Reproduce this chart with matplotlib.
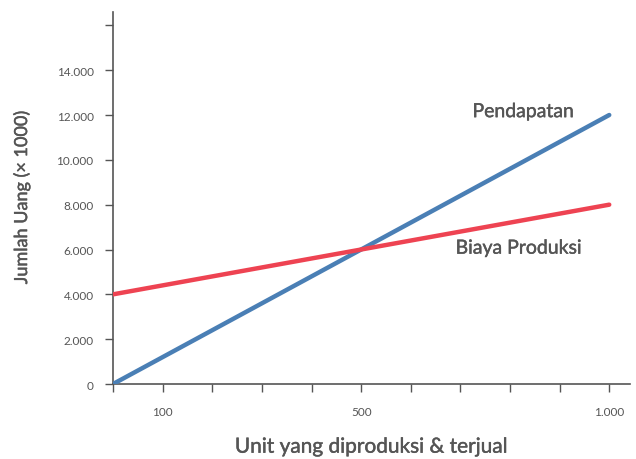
import matplotlib
matplotlib.use("Agg")
import matplotlib.pyplot as plt
import matplotlib.patheffects as pe
from matplotlib.ticker import FuncFormatter

# data
unit = [0, 1000]
pendapatan = [0, 12000]
biaya = [4000, 8000]
x_ticks = list(range(0, 1001, 100))
x_labels = {100: "100", 500: "500", 1000: "1.000"}
y_ticks = list(range(0, 16001, 2000))

abu = "#555555"
plt.rcParams["font.family"] = ["Lato", "DejaVu Sans"]
tebal = [pe.withStroke(linewidth=0.3, foreground=abu)]  # sedikit lebih tebal (semibold)

fig = plt.figure(figsize=(6.36, 4.6), dpi=100)
ax = fig.add_axes([0.1777, 0.163, 0.813, 0.809])

ax.plot(unit, pendapatan, color="#4a7fb5", lw=3.2, solid_capstyle="round", zorder=3)
ax.plot(unit, biaya, color="#ee4352", lw=3.2, solid_capstyle="round", zorder=3)

ax.set_xlim(0, 1042)
ax.set_ylim(0, 16600)
ax.set_xticks(x_ticks)
ax.set_xticklabels([x_labels.get(t, "") for t in x_ticks])
ax.set_yticks(y_ticks)
ax.yaxis.set_major_formatter(FuncFormatter(
    lambda v, p: "" if v > 14000 else f"{int(v):,}".replace(",", ".")))

for s in ["top", "right"]:
    ax.spines[s].set_visible(False)
for s in ["left", "bottom"]:
    ax.spines[s].set_color(abu)
    ax.spines[s].set_linewidth(1.2)
ax.tick_params(axis="both", direction="out", length=6, width=1, color=abu,
               labelcolor=abu, labelsize=8.5, pad=8)
ax.tick_params(axis="x", pad=10)

ax.text(827, 12150, "Pendapatan", ha="center", va="center", fontsize=14,
        color=abu, path_effects=tebal)
ax.text(818, 6060, "Biaya Produksi", ha="center", va="center", fontsize=14,
        color=abu, path_effects=tebal)

ax.set_xlabel("Unit yang diproduksi & terjual", fontsize=15, color=abu,
              labelpad=14, path_effects=tebal)
ax.set_ylabel("Jumlah Uang (× 1000)", fontsize=13, color=abu,
              labelpad=19, path_effects=tebal)

fig.savefig("out.png", dpi=100)
